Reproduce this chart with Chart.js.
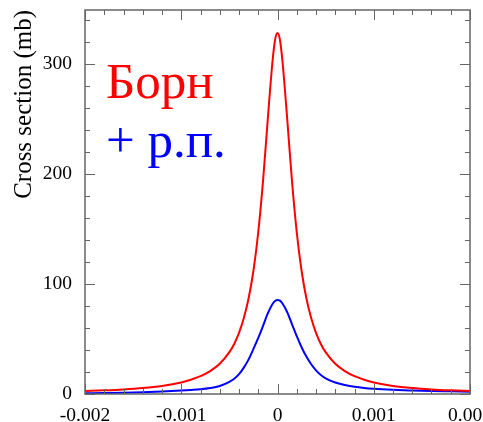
<!DOCTYPE html>
<html>
<head>
<meta charset="utf-8">
<script src="https://cdn.jsdelivr.net/npm/chart.js@4.4.1/dist/chart.umd.min.js"></script>
<style>
  html, body { margin: 0; padding: 0; background: #fff; overflow: hidden; }
  #wrap { width: 495px; height: 432px; }
</style>
</head>
<body>
<div id="wrap"><canvas id="grafico" width="495" height="432"></canvas></div>
<script>
// valores
const energia = [-0.002, -0.0018, -0.0016, -0.0014, -0.0012, -0.001, -0.0009, -0.0008, -0.0007, -0.0006,
  -0.0005, -0.00045, -0.0004, -0.00035, -0.0003, -0.00025, -0.0002, -0.00015, -0.0001, -0.00005, -0.000025,
  0,
  0.000025, 0.00005, 0.0001, 0.00015, 0.0002, 0.00025, 0.0003, 0.00035, 0.0004, 0.00045, 0.0005,
  0.0006, 0.0007, 0.0008, 0.0009, 0.001, 0.0012, 0.0014, 0.0016, 0.0018, 0.002];

const born = [2.8, 3.4, 4.2, 5.4, 7.3, 10.5, 13.0, 16.2, 20.8, 27.5,
  38, 45.5, 55.5, 69, 87, 112, 147, 194, 251, 304, 322,
  328,
  322, 304, 251, 194, 147, 112, 87, 69, 55.5, 45.5, 38,
  27.5, 20.8, 16.2, 13.0, 10.5, 7.3, 5.4, 4.2, 3.4, 2.8];

const bornRp = [0.6, 0.8, 1.1, 1.6, 2.3, 3.2, 3.7, 4.3, 5.4, 7.3,
  11, 13.8, 18, 24, 31.5, 41, 51, 62, 73.5, 82, 84.6,
  85.5,
  84.8, 82.5, 74.5, 63.5, 52.5, 42.5, 34, 27, 21.5, 17.3, 14.3,
  10.5, 8.2, 6.5, 5.4, 4.7, 3.8, 3.2, 2.7, 2.4, 2.1];

const xTicks = [-0.002, -0.001, 0, 0.001, 0.002];
const xTickLabels = ['-0.002', '-0.001', '0', '0.001', '0.002'];
const yTicks = [0, 100, 200, 300];
const yTickLabels = ['0', '100', '200', '300'];
const legendas = ['Борн', '+ р.п.'];
const tituloY = 'Cross section (mb)';

const fonte = '"Liberation Serif", "DejaVu Serif", serif';

// moldura com ticks para dentro + legenda dentro do gráfico
const moldura = {
  id: 'moldura',
  afterDatasetsDraw(chart) {
    const { ctx, chartArea: a, scales: { x, y } } = chart;
    ctx.save();
    ctx.strokeStyle = '#666';
    ctx.lineWidth = 1.5;
    ctx.strokeRect(a.left, a.top, a.right - a.left, a.bottom - a.top);

    ctx.lineWidth = 1;
    ctx.beginPath();
    for (let i = -10; i <= 10; i++) {
      const px = Math.round(x.getPixelForValue(i * 0.0002)) + 0.5;
      const len = i % 5 === 0 ? 10 : 5;
      ctx.moveTo(px, a.bottom); ctx.lineTo(px, a.bottom - len);
      ctx.moveTo(px, a.top); ctx.lineTo(px, a.top + len);
    }
    for (let i = 0; i <= 17; i++) {
      const py = Math.round(y.getPixelForValue(i * 20)) + 0.5;
      const len = i % 5 === 0 ? 10 : 5;
      ctx.moveTo(a.left, py); ctx.lineTo(a.left + len, py);
      ctx.moveTo(a.right, py); ctx.lineTo(a.right - len, py);
    }
    ctx.stroke();

    ctx.font = '51px ' + fonte;
    ctx.textBaseline = 'alphabetic';
    ctx.textAlign = 'left';
    ctx.fillStyle = '#ff0000';
    ctx.fillText(legendas[0], a.left + 21, a.top + 88);
    ctx.fillStyle = '#0000ff';
    ctx.fillText(legendas[1], a.left + 21, a.top + 147);
    ctx.restore();
  }
};

// sem folga automática dos rótulos: a área fica onde a figura manda
function semFolga(s) {
  s.paddingTop = 0;
  s.paddingBottom = 0;
  s.paddingLeft = 0;
  s.paddingRight = 0;
}

new Chart(document.getElementById('grafico'), {
  type: 'line',
  data: {
    datasets: [
      {
        label: legendas[0],
        data: energia.map((e, i) => ({ x: e, y: born[i] })),
        borderColor: '#ff0000',
        borderWidth: 2,
        pointRadius: 0,
        cubicInterpolationMode: 'monotone'
      },
      {
        label: legendas[1],
        data: energia.map((e, i) => ({ x: e, y: bornRp[i] })),
        borderColor: '#0000ff',
        borderWidth: 2,
        pointRadius: 0,
        cubicInterpolationMode: 'monotone'
      }
    ]
  },
  options: {
    responsive: false,
    animation: false,
    devicePixelRatio: 1,
    layout: { padding: { left: 5, top: 10, right: 25, bottom: 0 } },
    plugins: { legend: { display: false }, tooltip: { enabled: false } },
    scales: {
      x: {
        type: 'linear',
        min: -0.002,
        max: 0.002,
        afterBuildTicks: s => { s.ticks = xTicks.map(v => ({ value: v })); },
        afterFit: s => { s.height = 38; semFolga(s); },
        grid: { display: false, drawTicks: false },
        border: { display: false },
        ticks: {
          autoSkip: false,
          maxRotation: 0,
          padding: 10,
          color: '#000',
          font: { family: fonte, size: 19.5 },
          callback: (v, i) => xTickLabels[i]
        }
      },
      y: {
        min: 0,
        max: 349,
        afterBuildTicks: s => { s.ticks = yTicks.map(v => ({ value: v })); },
        afterFit: s => { s.width = 80; semFolga(s); },
        grid: { display: false, drawTicks: false },
        border: { display: false },
        title: {
          display: true,
          text: tituloY,
          align: 'end',
          color: '#000',
          font: { family: fonte, size: 25 }
        },
        ticks: {
          autoSkip: false,
          padding: 13,
          color: '#000',
          font: { family: fonte, size: 19.5 },
          callback: (v, i) => yTickLabels[i]
        }
      }
    }
  },
  plugins: [moldura]
});
</script>
</body>
</html>
